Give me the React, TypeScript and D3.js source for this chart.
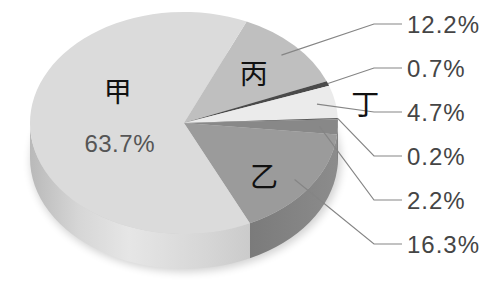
import React from "react";
import * as d3 from "d3";

// slices clockwise, starting from the top-right
const categories = ["丙", "", "丁", "", "", "乙", "甲"];
const values = [12.2, 0.7, 4.7, 0.2, 2.2, 16.3, 63.7];
const valueLabels = ["12.2%", "0.7%", "4.7%", "0.2%", "2.2%", "16.3%", "63.7%"];

const topColors = ["#bfbfbf", "#4a4a4a", "#ebebeb", "#5a5a5a", "#888888", "#9b9b9b", "#dbdbdb"];
const sideColors = ["#a8a8a8", "#3a3a3a", "#d0d0d0", "#4a4a4a", "#6e6e6e", "url(#sideYi)", "url(#sideJia)"];

const W = 499;
const H = 288;
const cx = 184;
const cy = 123;
const rx = 154;
const ry = 111;
const depth = 35;

// label placement inside the pie: radius fraction and nudges
const labelPlace: Record<string, { f: number; dx: number; dy: number }> = {
  丙: { f: 0.62, dx: 1, dy: -3 },
  丁: { f: 1.2, dx: 0, dy: 6 },
  乙: { f: 0.62, dx: 2, dy: 12 },
  甲: { f: 0.45, dx: 3, dy: -34 },
};

const pt = (a: number, f = 1, dy = 0): [number, number] => [
  cx + rx * f * Math.sin(a),
  cy - ry * f * Math.cos(a) + dy,
];

const topPath = (a0: number, a1: number) => {
  const [x0, y0] = pt(a0);
  const [x1, y1] = pt(a1);
  const large = a1 - a0 > Math.PI ? 1 : 0;
  return `M${cx},${cy}L${x0},${y0}A${rx},${ry} 0 ${large} 1 ${x1},${y1}Z`;
};

const sidePath = (a0: number, a1: number) => {
  const s = Math.max(a0, Math.PI / 2);
  const e = Math.min(a1, (3 * Math.PI) / 2);
  if (e <= s) return null;
  const [x0, y0] = pt(s);
  const [x1, y1] = pt(e);
  return `M${x0},${y0}A${rx},${ry} 0 0 1 ${x1},${y1}L${x1},${y1 + depth}A${rx},${ry} 0 0 0 ${x0},${y0 + depth}Z`;
};

// where the leader line touches each slice (fraction of radius)
const anchorFrac = (v: number) => (v < 1 ? 1 : 0.88);

export default function App() {
  const rad = (deg: number) => (deg * Math.PI) / 180;
  const start = rad(24);
  const arcs = d3
    .pie<number>()
    .value((d) => d)
    .sort(null)
    .startAngle(start)
    .endAngle(start + 2 * Math.PI)(values);

  const outer = values.slice(0, 6);
  const yScale = d3
    .scalePoint<number>()
    .domain(d3.range(outer.length))
    .range([24, 244]);

  const elbowX = 374;
  const lineEnd = 402;
  const textX = 407;

  return (
    <svg
      width={W}
      height={H}
      style={{ position: "absolute", left: 0, top: 0, background: "#fff" }}
      fontFamily="'Liberation Sans', Arial, sans-serif"
    >
      <defs>
        <linearGradient id="sideJia" gradientUnits="userSpaceOnUse" x1={30} y1={0} x2={250} y2={0}>
          <stop offset="0" stopColor="#b9b9b9" />
          <stop offset="0.22" stopColor="#d6d6d6" />
          <stop offset="0.45" stopColor="#e6e6e6" />
          <stop offset="0.8" stopColor="#d6d6d6" />
          <stop offset="1" stopColor="#cbcbcb" />
        </linearGradient>
        <linearGradient id="sideYi" gradientUnits="userSpaceOnUse" x1={247} y1={0} x2={338} y2={0}>
          <stop offset="0" stopColor="#7a7a7a" />
          <stop offset="1" stopColor="#8c8c8c" />
        </linearGradient>
        <filter id="blur" x="-20%" y="-20%" width="140%" height="140%">
          <feGaussianBlur stdDeviation="4" />
        </filter>
      </defs>

      {/* soft shadow */}
      <ellipse
        cx={cx + 2}
        cy={cy + depth + 3}
        rx={rx + 1}
        ry={ry}
        fill="#000"
        opacity={0.18}
        filter="url(#blur)"
      />

      {/* side walls */}
      {arcs.map((a, i) => {
        const d = sidePath(a.startAngle, a.endAngle);
        return d ? <path key={`s${i}`} d={d} fill={sideColors[i]} /> : null;
      })}

      {/* top faces */}
      {arcs.map((a, i) => (
        <path key={`t${i}`} d={topPath(a.startAngle, a.endAngle)} fill={topColors[i]} />
      ))}

      {/* leader lines and outer labels */}
      {outer.map((v, i) => {
        const a = arcs[i];
        const mid = (a.startAngle + a.endAngle) / 2;
        const [ax, ay] = pt(mid, anchorFrac(v));
        const y = yScale(i) as number;
        return (
          <g key={`l${i}`}>
            <polyline
              points={`${ax},${ay} ${elbowX},${y} ${lineEnd},${y}`}
              fill="none"
              stroke="#858585"
              strokeWidth={1.2}
            />
            <text x={textX} y={y + 9} fontSize={24} letterSpacing={1} fill="#454545">
              {valueLabels[i]}
            </text>
          </g>
        );
      })}

      {/* category labels inside slices */}
      {arcs.map((a, i) => {
        const name = categories[i];
        if (!name) return null;
        const p = labelPlace[name];
        const mid = (a.startAngle + a.endAngle) / 2;
        const [lx, ly] = pt(mid, p.f);
        const big = values[i] > 50;
        return (
          <g key={`c${i}`}>
            <text
              x={lx + p.dx}
              y={ly + p.dy}
              textAnchor="middle"
              dominantBaseline="central"
              fontSize={28}
              fontFamily="'Noto Sans CJK SC', sans-serif"
              fill="#111"
            >
              {name}
            </text>
            {big && (
              <text x={lx + 5} y={ly + 28} textAnchor="middle" fontSize={24} letterSpacing={0.5} fill="#555">
                {valueLabels[i]}
              </text>
            )}
          </g>
        );
      })}
    </svg>
  );
}
